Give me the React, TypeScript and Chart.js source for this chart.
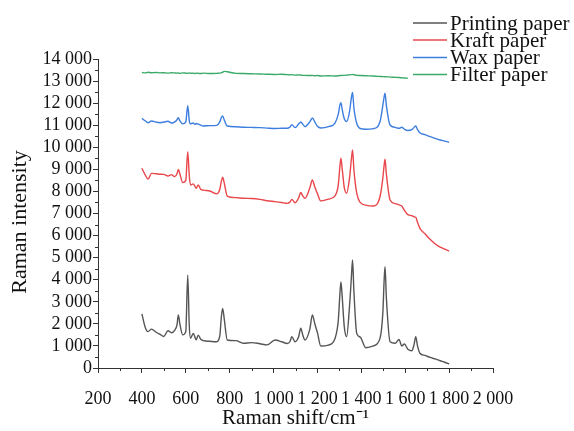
import React, { useEffect, useRef } from "react";
import { Chart, registerables } from "chart.js";

Chart.register(...registerables);

// Raman shift (cm-1), shared by all four spectra
const ramanShift = [
  400, 415, 428, 444, 465, 483, 500, 519, 535, 550,
  560, 566, 573, 586, 600, 609, 616, 622, 634, 641,
  647, 657, 668, 680, 710, 741, 755, 762, 768, 775,
  789, 828, 862, 900, 938, 970, 1007, 1037, 1062, 1075,
  1083, 1098, 1114, 1124, 1133, 1143, 1165, 1177, 1188, 1200,
  1215, 1250, 1280, 1295, 1302, 1307, 1313, 1322, 1333, 1346,
  1354, 1360, 1366, 1379, 1395, 1420, 1455, 1485, 1498, 1504,
  1508, 1514, 1531, 1554, 1572, 1584, 1596, 1612, 1630, 1640,
  1648, 1656, 1667, 1690, 1713, 1737, 1759, 1780, 1800,
];

const printingPaper = [
  2450, 1850, 1650, 1760, 1620, 1520, 1430, 1690, 1600, 1720,
  1950, 2400, 2000, 1500, 1650, 4210, 1900, 1350, 1570, 1420,
  1280, 1490, 1300, 1240, 1210, 1190, 1450, 2300, 2700, 2250,
  1270, 1240, 1120, 1150, 1100, 1050, 1270, 1190, 1110, 1200,
  1420, 1190, 1400, 1800, 1500, 1270, 1750, 2400, 2000, 1600,
  1000, 1040, 1340, 2150, 3300, 3900, 3200, 1900, 1420, 2780,
  4000, 4890, 3500, 1570, 1400, 920, 1000, 1340, 2500, 4000,
  4590, 3200, 1190, 1120, 1290, 1000, 1090, 850, 780, 1050,
  1420, 1000, 670, 570, 480, 410, 330, 260, 180,
];

const kraftPaper = [
  9050, 8750, 8560, 8820, 8800, 8780, 8770, 8700, 8760, 8670,
  8800, 9000, 8800, 8400, 8500, 9800, 8700, 8290, 8340, 8250,
  8140, 8290, 8100, 8060, 8020, 7890, 8100, 8450, 8640, 8400,
  7790, 7720, 7690, 7680, 7640, 7580, 7540, 7500, 7460, 7520,
  7640, 7490, 7700, 7950, 7800, 7690, 8150, 8520, 8200, 7900,
  7570, 7650, 7800, 8300, 9100, 9500, 9000, 8200, 7920, 8600,
  9400, 9880, 9000, 7920, 7500, 7380, 7340, 7760, 8600, 9200,
  9460, 8800, 7610, 7450, 7390, 7340, 7150, 6950, 6900, 6850,
  6830, 6600, 6330, 6080, 5830, 5620, 5480, 5390, 5300,
];

const waxPaper = [
  11310, 11200, 11110, 11190, 11140, 11115, 11140, 11180, 11100, 11150,
  11250, 11340, 11200, 11060, 11150, 11880, 11200, 11060, 11100, 11040,
  11080, 11050, 11000, 10965, 10980, 10995, 11150, 11350, 11420, 11250,
  10965, 10930, 10906, 10900, 10890, 10870, 10850, 10860, 10860, 10920,
  11025, 10890, 11050, 11146, 11050, 10935, 11150, 11330, 11150, 10950,
  10875, 10935, 11100, 11500, 11900, 12020, 11700, 11300, 11165, 11600,
  12200, 12490, 11800, 11090, 10850, 10820, 10845, 11160, 11900, 12300,
  12447, 11900, 11010, 10900, 10860, 10905, 10820, 10760, 10800, 10900,
  10965, 10800, 10660, 10570, 10480, 10400, 10330, 10280, 10226,
];

const filterPaper = [
  13390, 13370, 13400, 13380, 13390, 13370, 13380, 13360, 13380, 13370,
  13360, 13370, 13350, 13370, 13360, 13350, 13370, 13350, 13360, 13340,
  13360, 13350, 13340, 13360, 13340, 13350, 13360, 13380, 13400, 13440,
  13420, 13350, 13340, 13330, 13320, 13310, 13300, 13310, 13290, 13280,
  13290, 13270, 13280, 13270, 13260, 13260, 13250, 13260, 13240, 13250,
  13230, 13240, 13230, 13240, 13250, 13260, 13250, 13260, 13270, 13280,
  13290, 13300, 13290, 13260, 13250, 13240, 13230, 13210, 13200, 13200,
  13190, 13200, 13180, 13170, 13160, 13150, 13140, 13130, null, null,
  null, null, null, null, null, null, null, null, null,
];

const seriesNames = ["Printing paper", "Kraft paper", "Wax paper", "Filter paper"];
const seriesColors = ["#555555", "#e8474c", "#3d7ede", "#3aaa6a"];
const seriesValues = [printingPaper, kraftPaper, waxPaper, filterPaper];

const xMinorTicks = [300, 500, 700, 900, 1100, 1300, 1500, 1700, 1900];
const yMinorTicks = [500, 1500, 2500, 3500, 4500, 5500, 6500, 7500, 8500, 9500, 10500, 11500, 12500, 13500];

const yTitle = "Raman intensity";
const xTitle = "Raman shift/cm\u207B\u00B9";

const FONT = "'Liberation Serif', 'Times New Roman', serif";
const AXIS_COLOR = "#333333";

function fmt(v: number): string {
  if (v >= 1000) {
    const th = Math.floor(v / 1000);
    const rest = String(v % 1000).padStart(3, "0");
    return th + " " + rest;
  }
  return String(v);
}

const extrasPlugin = {
  id: "extras",
  afterDraw(chart: any) {
    const ctx = chart.ctx;
    const xs = chart.scales.x;
    const ys = chart.scales.y;
    ctx.save();
    ctx.strokeStyle = AXIS_COLOR;
    ctx.lineWidth = 1;
    const bottom = ys.getPixelForValue(0);
    const left = xs.getPixelForValue(200);
    xMinorTicks.forEach((v) => {
      const px = Math.round(xs.getPixelForValue(v)) + 0.5;
      ctx.beginPath();
      ctx.moveTo(px, bottom);
      ctx.lineTo(px, bottom + 3);
      ctx.stroke();
    });
    yMinorTicks.forEach((v) => {
      const py = Math.round(ys.getPixelForValue(v)) + 0.5;
      ctx.beginPath();
      ctx.moveTo(left, py);
      ctx.lineTo(left - 3, py);
      ctx.stroke();
    });
    // y-axis title
    ctx.save();
    ctx.translate(20, 222);
    ctx.rotate(-Math.PI / 2);
    ctx.font = "22px " + FONT;
    ctx.fillStyle = "#111111";
    ctx.textAlign = "center";
    ctx.textBaseline = "middle";
    ctx.fillText(yTitle, 0, 0);
    ctx.restore();
    // legend
    const lx0 = 413;
    const lx1 = 447;
    const rowY = [23, 40, 57.5, 74.5];
    ctx.font = "21px " + FONT;
    ctx.textBaseline = "middle";
    ctx.textAlign = "left";
    seriesNames.forEach((name, i) => {
      ctx.strokeStyle = seriesColors[i];
      ctx.lineWidth = 1.3;
      ctx.beginPath();
      ctx.moveTo(lx0, rowY[i]);
      ctx.lineTo(lx1, rowY[i]);
      ctx.stroke();
      ctx.fillStyle = "#111111";
      ctx.fillText(name, 450, rowY[i] + 1);
    });
    ctx.restore();
  },
};

export default function App() {
  const ref = useRef<HTMLCanvasElement | null>(null);
  useEffect(() => {
    document.body.style.margin = "0";
    const canvas = ref.current;
    if (!canvas) return;
    const chart = new Chart(canvas, {
      type: "line",
      data: {
        datasets: seriesNames.map((name, i) => ({
          label: name,
          data: ramanShift.map((x, j) => ({ x, y: seriesValues[i][j] as any })),
          borderColor: seriesColors[i],
          backgroundColor: seriesColors[i],
          borderWidth: 1.4,
          pointRadius: 0,
          cubicInterpolationMode: "monotone" as const,
          fill: false,
          spanGaps: false,
        })),
      },
      options: {
        responsive: false,
        animation: false,
        layout: { padding: { left: 7, top: 59, right: 81, bottom: 0 } },
        plugins: {
          legend: { display: false },
          tooltip: { enabled: false },
        },
        scales: {
          x: {
            type: "linear",
            min: 200,
            max: 2000,
            afterFit: (s: any) => {
              s.height = 63;
            },
            ticks: {
              stepSize: 200,
              autoSkip: false,
              maxRotation: 0,
              padding: 15,
              color: "#111111",
              font: { family: FONT, size: 18 },
              callback: (v: any) => fmt(Number(v)),
            },
            grid: {
              display: true,
              drawOnChartArea: false,
              drawTicks: true,
              tickLength: 5,
              color: AXIS_COLOR,
            },
            border: { display: true, color: AXIS_COLOR, width: 1 },
            title: {
              display: true,
              text: xTitle,
              color: "#111111",
              font: { family: FONT, size: 21 },
              padding: 0,
            },
          },
          y: {
            type: "linear",
            min: 0,
            max: 14000,
            afterFit: (s: any) => {
              s.width = 91;
            },
            ticks: {
              stepSize: 1000,
              autoSkip: false,
              padding: 1,
              color: "#111111",
              font: { family: FONT, size: 18 },
              callback: (v: any) => fmt(Number(v)),
            },
            grid: {
              display: true,
              drawOnChartArea: false,
              drawTicks: true,
              tickLength: 5,
              color: AXIS_COLOR,
            },
            border: { display: true, color: AXIS_COLOR, width: 1 },
            title: { display: false },
          },
        },
      },
      plugins: [extrasPlugin],
    });
    return () => chart.destroy();
  }, []);
  return (
    <div style={{ width: 574, height: 431, background: "#ffffff" }}>
      <canvas ref={ref} width={574} height={431} style={{ display: "block" }} />
    </div>
  );
}
